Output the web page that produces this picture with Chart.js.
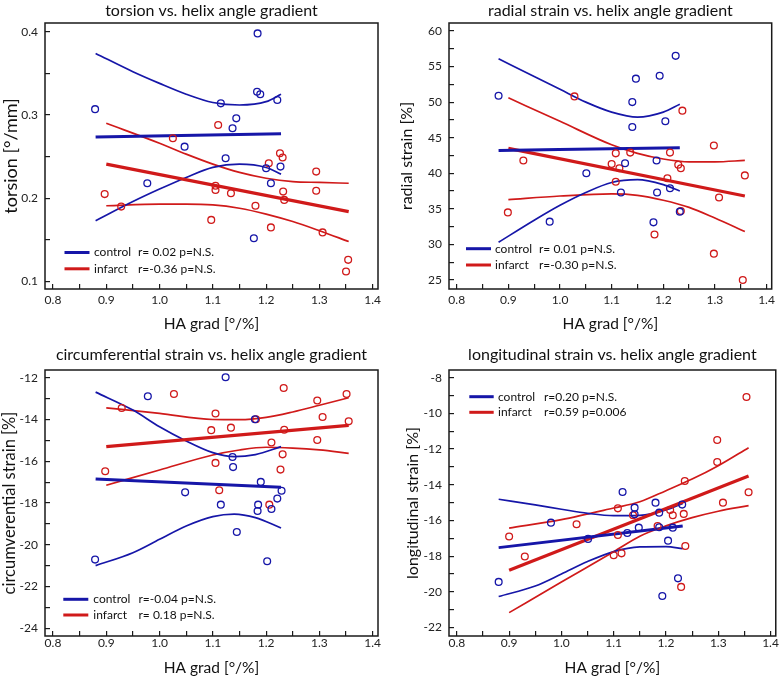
<!DOCTYPE html>
<html><head><meta charset="utf-8">
<script src="https://cdn.jsdelivr.net/npm/chart.js@4/dist/chart.umd.min.js"></script>
<style>
body{margin:0;background:#fff;width:784px;height:677px;overflow:hidden;position:relative;}
canvas{position:absolute;}
</style></head>
<body>
<canvas id="c1" width="392" height="340" style="left:0;top:0"></canvas>
<canvas id="c2" width="392" height="340" style="left:392px;top:0"></canvas>
<canvas id="c3" width="392" height="347" style="left:0;top:330px"></canvas>
<canvas id="c4" width="392" height="347" style="left:392px;top:330px"></canvas>
<script>
// ---------- shared x axis ----------
const xMajorTicks = [0.8, 0.9, 1.0, 1.1, 1.2, 1.3, 1.4];
const xTickLabels = ['0.8', '0.9', '1.0', '1.1', '1.2', '1.3', '1.4'];
const xMinorTicks = [0.85, 0.95, 1.05, 1.15, 1.25, 1.35];
const seriesNames = ['control', 'infarct'];

// ---------- torsion ----------
const torsionCtrlX = [0.879, 0.977, 1.047, 1.115, 1.124, 1.137, 1.144, 1.177, 1.183, 1.184, 1.189, 1.200, 1.209, 1.221, 1.227];
const torsionCtrlY = [0.307, 0.218, 0.262, 0.314, 0.248, 0.284, 0.296, 0.152, 0.328, 0.398, 0.325, 0.236, 0.218, 0.318, 0.238];
const torsionInfX = [0.897, 0.928, 1.025, 1.097, 1.105, 1.105, 1.110, 1.134, 1.180, 1.205, 1.209, 1.226, 1.231, 1.232, 1.234, 1.294, 1.294, 1.306, 1.350, 1.354];
const torsionInfY = [0.205, 0.190, 0.272, 0.174, 0.215, 0.210, 0.288, 0.206, 0.191, 0.242, 0.165, 0.254, 0.249, 0.208, 0.198, 0.232, 0.209, 0.159, 0.112, 0.126];
const torsionCtrlFitX = [0.88, 1.228], torsionCtrlFitY = [0.2735, 0.2775];
const torsionInfFitX = [0.9, 1.355], torsionInfFitY = [0.241, 0.184];
const torsionCtrlBandX = [0.88, 0.95, 1.0, 1.05, 1.1, 1.15, 1.2, 1.228];
const torsionCtrlUpper = [0.374, 0.352, 0.338, 0.325, 0.315, 0.312, 0.316, 0.325];
const torsionCtrlLower = [0.173, 0.196, 0.211, 0.225, 0.237, 0.241, 0.237, 0.229];
const torsionInfBandX = [0.9, 1.0, 1.05, 1.1, 1.15, 1.2, 1.25, 1.3, 1.355];
const torsionInfUpper = [0.290, 0.266, 0.253, 0.241, 0.231, 0.224, 0.220, 0.219, 0.218];
const torsionInfLower = [0.191, 0.193, 0.193, 0.192, 0.188, 0.181, 0.172, 0.161, 0.148];
const torsionYMajor = [0.1, 0.2, 0.3, 0.4];
const torsionYLabels = ['0.1', '0.2', '0.3', '0.4'];
const torsionYMinor = [0.15, 0.25, 0.35];
const torsionStats = ['r= 0.02 p=N.S.', 'r=-0.36 p=N.S.'];

// ---------- radial strain ----------
const radialCtrlX = [0.881, 0.980, 1.051, 1.118, 1.126, 1.140, 1.140, 1.147, 1.181, 1.187, 1.188, 1.193, 1.204, 1.213, 1.224, 1.232];
const radialCtrlY = [50.9, 33.2, 40.0, 37.3, 41.4, 50.0, 46.5, 53.3, 33.1, 41.8, 37.3, 53.7, 47.3, 37.9, 56.5, 34.6];
const radialInfX = [0.899, 0.929, 1.028, 1.100, 1.108, 1.108, 1.115, 1.136, 1.183, 1.208, 1.213, 1.229, 1.234, 1.237, 1.234, 1.298, 1.298, 1.308, 1.358, 1.354];
const radialInfY = [34.5, 41.8, 50.8, 41.3, 42.8, 38.8, 40.7, 42.9, 31.4, 39.3, 42.9, 41.2, 40.7, 48.8, 34.7, 43.9, 28.7, 36.6, 39.7, 25.0];
const radialCtrlFitX = [0.881, 1.232], radialCtrlFitY = [43.2, 43.6];
const radialInfFitX = [0.9, 1.358], radialInfFitY = [43.5, 36.8];
const radialCtrlBandX = [0.881, 0.95, 1.0, 1.05, 1.1, 1.15, 1.2, 1.232];
const radialCtrlUpper = [56.1, 53.6, 51.8, 50.0, 48.6, 47.9, 48.6, 49.7];
const radialCtrlLower = [30.3, 33.4, 35.5, 37.3, 38.7, 39.1, 38.4, 37.5];
const radialInfBandX = [0.9, 1.0, 1.1, 1.15, 1.2, 1.25, 1.3, 1.358];
const radialInfUpper = [50.6, 47.3, 44.0, 42.8, 42.0, 41.6, 41.6, 41.8];
const radialInfLower = [36.3, 36.8, 37.1, 36.9, 36.2, 35.2, 33.7, 31.8];
const radialYMajor = [25, 30, 35, 40, 45, 50, 55, 60];
const radialYLabels = ['25', '30', '35', '40', '45', '50', '55', '60'];
const radialYMinor = [27.5, 32.5, 37.5, 42.5, 47.5, 52.5, 57.5];
const radialStats = ['r= 0.01 p=N.S.', 'r=-0.30 p=N.S.'];

// ---------- circumferential strain ----------
const circCtrlX = [0.879, 0.978, 1.048, 1.115, 1.124, 1.137, 1.138, 1.145, 1.179, 1.184, 1.185, 1.190, 1.202, 1.210, 1.221, 1.229];
const circCtrlY = [-20.71, -12.89, -17.49, -18.08, -11.98, -15.80, -16.28, -19.39, -13.99, -18.38, -18.08, -16.99, -20.79, -18.29, -17.79, -17.41];
const circInfX = [0.898, 0.929, 1.027, 1.097, 1.105, 1.105, 1.112, 1.134, 1.181, 1.206, 1.210, 1.227, 1.231, 1.233, 1.234, 1.296, 1.296, 1.306, 1.351, 1.355];
const circInfY = [-16.48, -13.45, -12.78, -14.51, -13.71, -16.08, -17.39, -14.39, -13.99, -18.08, -15.10, -16.40, -15.67, -12.49, -14.49, -13.09, -14.98, -13.88, -12.78, -14.09];
const circCtrlFitX = [0.88, 1.228], circCtrlFitY = [-16.85, -17.25];
const circInfFitX = [0.9, 1.355], circInfFitY = [-15.30, -14.28];
const circCtrlBandX = [0.88, 0.95, 1.0, 1.05, 1.1, 1.14, 1.18, 1.228];
const circCtrlUpper = [-12.69, -13.55, -14.35, -15.03, -15.59, -15.78, -15.68, -15.30];
const circCtrlLower = [-21.0, -20.38, -19.74, -19.10, -18.65, -18.53, -18.70, -19.20];
const circInfBandX = [0.9, 1.0, 1.1, 1.15, 1.2, 1.25, 1.3, 1.355];
const circInfUpper = [-13.44, -13.71, -14.0, -14.01, -13.90, -13.64, -13.32, -12.96];
const circInfLower = [-17.15, -16.42, -15.70, -15.46, -15.33, -15.37, -15.46, -15.62];
const circYMajor = [-24, -22, -20, -18, -16, -14, -12];
const circYLabels = ['-24', '-22', '-20', '-18', '-16', '-14', '-12'];
const circYMinor = [-23, -21, -19, -17, -15, -13];
const circStats = ['r=-0.04 p=N.S.', 'r= 0.18 p=N.S.'];

// ---------- longitudinal strain ----------
const longCtrlX = [0.880, 0.980, 1.051, 1.117, 1.126, 1.140, 1.140, 1.148, 1.180, 1.187, 1.187, 1.193, 1.204, 1.213, 1.223, 1.231];
const longCtrlY = [-19.44, -16.12, -17.03, -14.40, -16.70, -15.28, -15.65, -16.40, -15.00, -15.56, -16.38, -20.23, -17.13, -16.40, -19.24, -15.11];
const longInfX = [0.900, 0.930, 1.029, 1.100, 1.108, 1.108, 1.115, 1.137, 1.184, 1.208, 1.213, 1.229, 1.234, 1.236, 1.237, 1.298, 1.298, 1.309, 1.354, 1.358];
const longInfY = [-16.90, -18.02, -16.21, -17.95, -15.32, -16.81, -17.84, -15.71, -16.31, -15.41, -15.71, -19.72, -15.63, -13.79, -17.43, -11.49, -12.72, -15.00, -9.08, -14.42];
const longCtrlFitX = [0.88, 1.232], longCtrlFitY = [-17.52, -16.31];
const longInfFitX = [0.9, 1.358], longInfFitY = [-18.79, -13.51];
const longCtrlBandX = [0.88, 0.95, 1.0, 1.05, 1.1, 1.15, 1.2, 1.232];
const longCtrlUpper = [-14.81, -15.13, -15.37, -15.60, -15.73, -15.71, -15.41, -15.04];
const longCtrlLower = [-20.26, -19.67, -19.0, -18.30, -17.74, -17.48, -17.46, -17.58];
const longInfBandX = [0.9, 1.0, 1.1, 1.15, 1.2, 1.25, 1.3, 1.358];
const longInfUpper = [-16.43, -15.95, -15.3, -14.95, -14.33, -13.68, -12.93, -11.92];
const longInfLower = [-21.16, -19.45, -17.75, -16.88, -16.3, -15.84, -15.48, -15.17];
const longYMajor = [-22, -20, -18, -16, -14, -12, -10, -8];
const longYLabels = ['-22', '-20', '-18', '-16', '-14', '-12', '-10', '-8'];
const longYMinor = [-21, -19, -17, -15, -13, -11, -9];
const longStats = ['r=0.20 p=N.S.', 'r=0.59 p=0.006'];

// ---------- styling ----------
const BLUE = '#1616a8', RED = '#d01a1a', INK = '#1a1a1a';
const FONT = 'Lato, "Open Sans", sans-serif';
const X_MIN = 0.785, X_MAX = 1.41;

function pts(xs, ys) { return xs.map((x, i) => ({ x: x, y: ys[i] })); }

const decor = {
  id: 'decor',
  afterDraw(chart, args, o) {
    const ctx = chart.ctx, a = chart.chartArea;
    ctx.save();
    ctx.strokeStyle = INK; ctx.lineWidth = 1.5;
    ctx.strokeRect(a.left, a.top, a.right - a.left, a.bottom - a.top);
    ctx.fillStyle = '#111';
    ctx.font = o.titleSize + 'px ' + FONT;
    ctx.textAlign = 'center'; ctx.textBaseline = 'alphabetic';
    ctx.fillText(o.title, (a.left + a.right) / 2 + (o.titleDx || 0), o.titleY);
    ctx.font = o.legSize + 'px ' + FONT;
    ctx.textAlign = 'left'; ctx.textBaseline = 'middle';
    [BLUE, RED].forEach((col, i) => {
      const y = a.top + o.legY + i * o.legDy;
      ctx.strokeStyle = col; ctx.lineWidth = 3;
      ctx.beginPath(); ctx.moveTo(a.left + o.legX1, y); ctx.lineTo(a.left + o.legX2, y); ctx.stroke();
      ctx.fillStyle = '#111';
      ctx.fillText(seriesNames[i], a.left + o.legTx, y);
      ctx.fillText(o.stats[i], a.left + o.legRx, y);
    });
    ctx.restore();
  }
};

function scatterSet(xs, ys, col) {
  return { data: pts(xs, ys), showLine: false, pointRadius: 3.4, pointBorderWidth: 1.3,
    borderColor: col, pointBorderColor: col, backgroundColor: 'rgba(0,0,0,0)', pointBackgroundColor: 'rgba(0,0,0,0)' };
}
function lineSet(xs, ys, col, w) {
  return { data: pts(xs, ys), showLine: true, pointRadius: 0, borderColor: col, borderWidth: w,
    cubicInterpolationMode: 'monotone', fill: false };
}

function makePanel(id, p) {
  const allX = xMajorTicks.concat(xMinorTicks).sort((a, b) => a - b);
  const allY = p.yMajor.concat(p.yMinor).sort((a, b) => a - b);
  new Chart(document.getElementById(id), {
    type: 'scatter',
    data: { datasets: [
      scatterSet(p.cx, p.cy, BLUE),
      scatterSet(p.ix, p.iy, RED),
      lineSet(p.cfx, p.cfy, BLUE, 3),
      lineSet(p.ifx, p.ify, RED, 3.2),
      lineSet(p.cbx, p.cu, BLUE, 1.7),
      lineSet(p.cbx, p.cl, BLUE, 1.7),
      lineSet(p.ibx, p.iu, RED, 1.7),
      lineSet(p.ibx, p.il, RED, 1.7)
    ] },
    options: {
      responsive: false, animation: false, events: [],
      layout: { padding: { left: 0, top: p.top, right: p.right, bottom: 0 } },
      plugins: { legend: { display: false }, tooltip: { enabled: false }, title: { display: false },
        decor: p.decor },
      scales: {
        x: {
          type: 'linear', min: X_MIN, max: X_MAX, bounds: 'data',
          afterBuildTicks: s => { s.ticks = allX.map(v => ({ value: v })); },
          afterFit: s => { s.height = p.xh; },
          ticks: { autoSkip: false, maxRotation: 0, padding: p.xpad, color: '#222',
            font: { family: FONT, size: 12 },
            callback: v => { const i = xMajorTicks.indexOf(v); return i < 0 ? '' : xTickLabels[i]; } },
          grid: { display: true, drawOnChartArea: false, drawTicks: true, tickLength: -5, color: INK, lineWidth: 1.2 },
          border: { display: false },
          title: { display: true, text: 'HA grad [°/%]', color: '#111', font: { family: FONT, size: 15.5 },
            padding: { top: 0, bottom: p.xtpad } }
        },
        y: {
          type: 'linear', min: p.ymin, max: p.ymax, bounds: 'data',
          afterBuildTicks: s => { s.ticks = allY.map(v => ({ value: v })); },
          afterFit: s => { s.width = p.yw; },
          ticks: { autoSkip: false, padding: 12, color: '#222', font: { family: FONT, size: 12 },
            callback: v => { const i = p.yMajor.indexOf(v); return i < 0 ? '' : p.yLabels[i]; } },
          grid: { display: true, drawOnChartArea: false, drawTicks: true, tickLength: -5, color: INK, lineWidth: 1.2 },
          border: { display: false },
          title: { display: true, text: p.ytitle, color: '#111', font: { family: FONT, size: p.ytsize },
            padding: { top: p.ytpad, bottom: 0 } }
        }
      }
    },
    plugins: [decor]
  });
}

makePanel('c1', {
  cx: torsionCtrlX, cy: torsionCtrlY, ix: torsionInfX, iy: torsionInfY,
  cfx: torsionCtrlFitX, cfy: torsionCtrlFitY, ifx: torsionInfFitX, ify: torsionInfFitY,
  cbx: torsionCtrlBandX, cu: torsionCtrlUpper, cl: torsionCtrlLower,
  ibx: torsionInfBandX, iu: torsionInfUpper, il: torsionInfLower,
  yMajor: torsionYMajor, yMinor: torsionYMinor, yLabels: torsionYLabels,
  ymin: 0.091, ymax: 0.4105, ytitle: 'torsion [°/mm]', ytsize: 18,
  top: 23, right: 14, xh: 51, yw: 45, xpad: 9, xtpad: 7, ytpad: 0,
  decor: { title: 'torsion vs. helix angle gradient', titleY: 15.5, titleSize: 16, legSize: 12,
    legX1: 19.5, legX2: 44.5, legY: 229.5, legDy: 16.3, legTx: 49, legRx: 93, stats: torsionStats }
});
makePanel('c2', {
  cx: radialCtrlX, cy: radialCtrlY, ix: radialInfX, iy: radialInfY,
  cfx: radialCtrlFitX, cfy: radialCtrlFitY, ifx: radialInfFitX, ify: radialInfFitY,
  cbx: radialCtrlBandX, cu: radialCtrlUpper, cl: radialCtrlLower,
  ibx: radialInfBandX, iu: radialInfUpper, il: radialInfLower,
  yMajor: radialYMajor, yMinor: radialYMinor, yLabels: radialYLabels,
  ymin: 23.73, ymax: 61.12, ytitle: 'radial strain [%]', ytsize: 16,
  top: 23, right: 3, xh: 51, yw: 57, xpad: 9, xtpad: 7, ytpad: 5,
  decor: { title: 'radial strain vs. helix angle gradient', titleY: 15.5, titleSize: 16, legSize: 12,
    legX1: 17, legX2: 42, legY: 225.7, legDy: 16.3, legTx: 46, legRx: 90, stats: radialStats }
});
makePanel('c3', {
  cx: circCtrlX, cy: circCtrlY, ix: circInfX, iy: circInfY,
  cfx: circCtrlFitX, cfy: circCtrlFitY, ifx: circInfFitX, ify: circInfFitY,
  cbx: circCtrlBandX, cu: circCtrlUpper, cl: circCtrlLower,
  ibx: circInfBandX, iu: circInfUpper, il: circInfLower,
  yMajor: circYMajor, yMinor: circYMinor, yLabels: circYLabels,
  ymin: -24.37, ymax: -11.63, ytitle: 'circumverential strain [%]', ytsize: 16.5,
  top: 40, right: 14, xh: 41, yw: 45, xpad: 5, xtpad: 0, ytpad: 0,
  decor: { title: 'circumferential strain vs. helix angle gradient', titleY: 30, titleSize: 16, legSize: 12,
    legX1: 18.3, legX2: 43.3, legY: 229.3, legDy: 15.7, legTx: 48.3, legRx: 93.5, stats: circStats }
});
makePanel('c4', {
  cx: longCtrlX, cy: longCtrlY, ix: longInfX, iy: longInfY,
  cfx: longCtrlFitX, cfy: longCtrlFitY, ifx: longInfFitX, ify: longInfFitY,
  cbx: longCtrlBandX, cu: longCtrlUpper, cl: longCtrlLower,
  ibx: longInfBandX, iu: longInfUpper, il: longInfLower,
  yMajor: longYMajor, yMinor: longYMinor, yLabels: longYLabels,
  ymin: -22.47, ymax: -7.57, ytitle: 'longitudinal strain [%]', ytsize: 16,
  top: 40, right: 3, xh: 41, yw: 57, xpad: 5, xtpad: 0, ytpad: 11,
  decor: { title: 'longitudinal strain vs. helix angle gradient', titleY: 30, titleSize: 16, legSize: 12,
    legX1: 20.3, legX2: 44.7, legY: 26.7, legDy: 15.6, legTx: 49, legRx: 95, stats: longStats }
});
</script>
</body></html>
